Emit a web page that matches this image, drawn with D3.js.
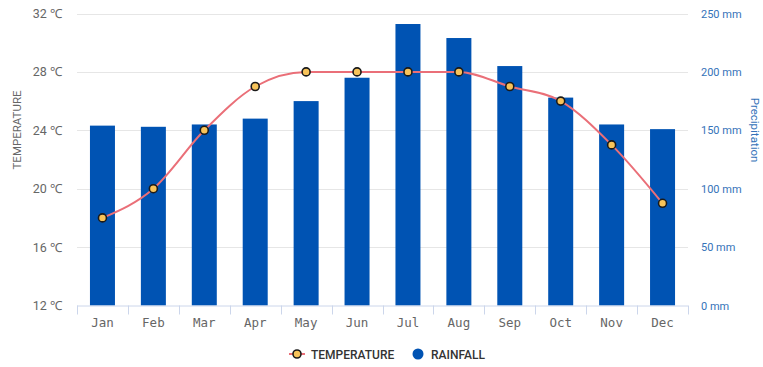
<!DOCTYPE html>
<html><head><meta charset="utf-8">
<script src="https://cdn.jsdelivr.net/npm/d3@7"></script>
<style>
html,body{margin:0;padding:0;background:#fff;}
svg{display:block;}
</style></head>
<body>
<svg id="chart" width="763" height="367"></svg>
<script>
const months = ["Jan","Feb","Mar","Apr","May","Jun","Jul","Aug","Sep","Oct","Nov","Dec"];
const temperature = [18,20,24,27,28,28,28,28,27,26,23,19];
const rainfall = [154,153,155,160,175,195,241,229,205,178,155,151];
const tempTicks = [12,16,20,24,28,32];
const rainTicks = [0,50,100,150,200,250];

(function(){
const pL=77,pR=688,pT=13.5,pB=305.5;
const svg=d3.select("#chart");

const x=d3.scaleBand().domain(months).range([pL,pR]);
const yT=d3.scaleLinear().domain([12,32]).range([pB,pT]);
const yR=d3.scaleLinear().domain([0,250]).range([pB,pT]);

// grid
svg.append("g").selectAll("line").data(tempTicks.slice(1)).join("line")
  .attr("x1",pL).attr("x2",pR)
  .attr("y1",d=>Math.round(yT(d))+0.5).attr("y2",d=>Math.round(yT(d))+0.5)
  .attr("stroke","#e6e6e6").attr("stroke-width",1);

// bars
const bw=25;
svg.append("g").selectAll("rect").data(months).join("rect")
  .attr("x",(d,i)=>x(d)+x.bandwidth()/2-bw/2)
  .attr("y",(d,i)=>yR(rainfall[i]))
  .attr("width",bw)
  .attr("height",(d,i)=>yR(0)-yR(rainfall[i]))
  .attr("fill","#0053b3");

// x axis
const xg=svg.append("g");
xg.append("line").attr("x1",pL).attr("x2",pR).attr("y1",pB+0.5).attr("y2",pB+0.5)
  .attr("stroke","#ccd6eb");
const bounds=months.map(m=>x(m)).concat([pR]);
xg.selectAll("line.t").data(bounds).join("line").attr("class","t")
  .attr("x1",d=>Math.round(d)+0.5).attr("x2",d=>Math.round(d)+0.5)
  .attr("y1",pB).attr("y2",pB+9).attr("stroke","#ccd6eb");
xg.selectAll("text").data(months).join("text")
  .attr("x",d=>x(d)+x.bandwidth()/2).attr("y",327)
  .attr("text-anchor","middle")
  .attr("font-family","DejaVu Sans Mono, monospace").attr("font-size",12.5)
  .attr("fill","#666").text(d=>d);

// left axis labels
svg.append("g").selectAll("text").data(tempTicks).join("text")
  .attr("x",62).attr("y",d=>yT(d)+4.5).attr("text-anchor","end")
  .attr("font-family","Roboto, sans-serif").attr("font-size",12.5)
  .attr("fill","#666").text(d=>d+" ℃");
svg.append("text").attr("transform","translate(21,130) rotate(-90)")
  .attr("text-anchor","middle").attr("font-family","Roboto, sans-serif")
  .attr("font-size",11.5).attr("fill","#666").text("TEMPERATURE");

// right axis labels
svg.append("g").selectAll("text").data(rainTicks).join("text")
  .attr("x",701).attr("y",d=>yR(d)+4).attr("text-anchor","start")
  .attr("font-family","Roboto, sans-serif").attr("font-size",11)
  .attr("fill","#3573b9").text(d=>d+" mm");
svg.append("text").attr("transform","translate(751,130) rotate(90)")
  .attr("text-anchor","middle").attr("font-family","Roboto, sans-serif")
  .attr("font-size",11.5).attr("fill","#3573b9").text("Precipitation");

// line
const line=d3.line().x((d,i)=>x(months[i])+x.bandwidth()/2).y(d=>yT(d)).curve(d3.curveMonotoneX);
svg.append("path").datum(temperature).attr("d",line)
  .attr("fill","none").attr("stroke","#ea6f78").attr("stroke-width",2);
svg.append("g").selectAll("circle").data(temperature).join("circle")
  .attr("cx",(d,i)=>x(months[i])+x.bandwidth()/2).attr("cy",d=>yT(d)).attr("r",4)
  .attr("fill","#f7c35a").attr("stroke","#1a1a1a").attr("stroke-width",1.6);

// legend
const lg=svg.append("g");
lg.append("line").attr("x1",289).attr("x2",305).attr("y1",354).attr("y2",354)
  .attr("stroke","#ea6f78").attr("stroke-width",2);
lg.append("circle").attr("cx",297).attr("cy",354).attr("r",4)
  .attr("fill","#f7c35a").attr("stroke","#1a1a1a").attr("stroke-width",1.6);
lg.append("text").attr("x",311).attr("y",358.5).attr("font-family","Roboto, sans-serif")
  .attr("font-size",12).attr("font-weight",500).attr("fill","#333").text("TEMPERATURE");
lg.append("circle").attr("cx",418).attr("cy",354).attr("r",5.5).attr("fill","#0053b3");
lg.append("text").attr("x",431).attr("y",358.5).attr("font-family","Roboto, sans-serif")
  .attr("font-size",12).attr("font-weight",500).attr("fill","#333").text("RAINFALL");
})();
</script>
</body></html>
